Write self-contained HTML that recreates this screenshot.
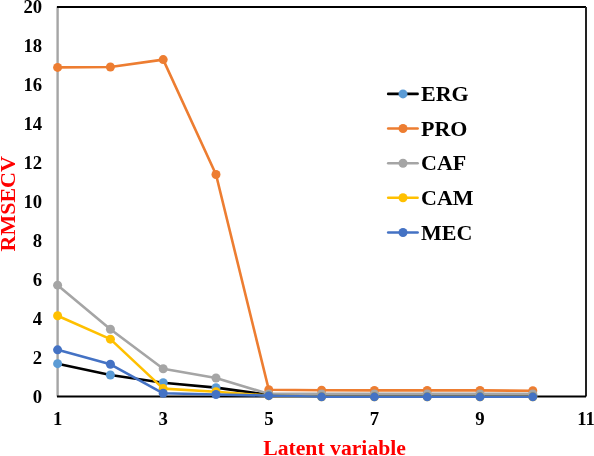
<!DOCTYPE html>
<html><head><meta charset="utf-8"><style>
html,body{margin:0;padding:0;background:#fff;}
body{width:594px;height:456px;overflow:hidden;}
svg{display:block;}
text{filter:opacity(1);}
text{font-family:"Liberation Serif",serif;font-weight:bold;}
.t{font-size:18.7px;fill:#000;}
.ti{font-size:22px;fill:#FF0000;}
.lg{font-size:22px;fill:#000;}
</style></head><body>
<svg width="594" height="456" viewBox="0 0 594 456">
<line x1="57.60" y1="6.50" x2="57.60" y2="396.60" stroke="#A5A5A5" stroke-width="2.4"/>
<line x1="57.00" y1="7.00" x2="586.00" y2="7.00" stroke="#000" stroke-width="2"/>
<line x1="586.00" y1="7.00" x2="586.00" y2="396.60" stroke="#222" stroke-width="2"/>
<line x1="57.00" y1="396.60" x2="586.00" y2="396.60" stroke="#000" stroke-width="2"/>
<polyline points="57.60,363.69 110.40,374.99 163.20,382.78 216.00,387.65 268.80,394.86 321.60,395.05 374.40,395.05 427.20,395.05 480.00,395.05 532.80,395.05" fill="none" stroke="#000000" stroke-width="2.6" stroke-linejoin="round"/>
<circle cx="57.60" cy="363.69" r="4.5" fill="#5B9BD5"/>
<circle cx="110.40" cy="374.99" r="4.5" fill="#5B9BD5"/>
<circle cx="163.20" cy="382.78" r="4.5" fill="#5B9BD5"/>
<circle cx="216.00" cy="387.65" r="4.5" fill="#5B9BD5"/>
<circle cx="268.80" cy="394.86" r="4.5" fill="#5B9BD5"/>
<circle cx="321.60" cy="395.05" r="4.5" fill="#5B9BD5"/>
<circle cx="374.40" cy="395.05" r="4.5" fill="#5B9BD5"/>
<circle cx="427.20" cy="395.05" r="4.5" fill="#5B9BD5"/>
<circle cx="480.00" cy="395.05" r="4.5" fill="#5B9BD5"/>
<circle cx="532.80" cy="395.05" r="4.5" fill="#5B9BD5"/>
<polyline points="57.60,67.40 110.40,67.01 163.20,59.61 216.00,174.54 268.80,389.79 321.60,390.18 374.40,390.38 427.20,390.38 480.00,390.38 532.80,390.77" fill="none" stroke="#ED7D31" stroke-width="2.6" stroke-linejoin="round"/>
<circle cx="57.60" cy="67.40" r="4.5" fill="#ED7D31"/>
<circle cx="110.40" cy="67.01" r="4.5" fill="#ED7D31"/>
<circle cx="163.20" cy="59.61" r="4.5" fill="#ED7D31"/>
<circle cx="216.00" cy="174.54" r="4.5" fill="#ED7D31"/>
<circle cx="268.80" cy="389.79" r="4.5" fill="#ED7D31"/>
<circle cx="321.60" cy="390.18" r="4.5" fill="#ED7D31"/>
<circle cx="374.40" cy="390.38" r="4.5" fill="#ED7D31"/>
<circle cx="427.20" cy="390.38" r="4.5" fill="#ED7D31"/>
<circle cx="480.00" cy="390.38" r="4.5" fill="#ED7D31"/>
<circle cx="532.80" cy="390.77" r="4.5" fill="#ED7D31"/>
<polyline points="57.60,285.18 110.40,329.21 163.20,368.75 216.00,378.01 268.80,393.88 321.60,393.88 374.40,393.88 427.20,393.88 480.00,393.88 532.80,393.88" fill="none" stroke="#A5A5A5" stroke-width="2.6" stroke-linejoin="round"/>
<circle cx="57.60" cy="285.18" r="4.5" fill="#A5A5A5"/>
<circle cx="110.40" cy="329.21" r="4.5" fill="#A5A5A5"/>
<circle cx="163.20" cy="368.75" r="4.5" fill="#A5A5A5"/>
<circle cx="216.00" cy="378.01" r="4.5" fill="#A5A5A5"/>
<circle cx="268.80" cy="393.88" r="4.5" fill="#A5A5A5"/>
<circle cx="321.60" cy="393.88" r="4.5" fill="#A5A5A5"/>
<circle cx="374.40" cy="393.88" r="4.5" fill="#A5A5A5"/>
<circle cx="427.20" cy="393.88" r="4.5" fill="#A5A5A5"/>
<circle cx="480.00" cy="393.88" r="4.5" fill="#A5A5A5"/>
<circle cx="532.80" cy="393.88" r="4.5" fill="#A5A5A5"/>
<polyline points="57.60,315.77 110.40,339.14 163.20,388.62 216.00,391.74 268.80,395.64 321.60,396.81 374.40,396.81 427.20,396.81 480.00,396.81 532.80,396.81" fill="none" stroke="#FFC000" stroke-width="2.6" stroke-linejoin="round"/>
<circle cx="57.60" cy="315.77" r="4.5" fill="#FFC000"/>
<circle cx="110.40" cy="339.14" r="4.5" fill="#FFC000"/>
<circle cx="163.20" cy="388.62" r="4.5" fill="#FFC000"/>
<circle cx="216.00" cy="391.74" r="4.5" fill="#FFC000"/>
<circle cx="268.80" cy="395.64" r="4.5" fill="#FFC000"/>
<circle cx="321.60" cy="396.81" r="4.5" fill="#FFC000"/>
<circle cx="374.40" cy="396.81" r="4.5" fill="#FFC000"/>
<circle cx="427.20" cy="396.81" r="4.5" fill="#FFC000"/>
<circle cx="480.00" cy="396.81" r="4.5" fill="#FFC000"/>
<circle cx="532.80" cy="396.81" r="4.5" fill="#FFC000"/>
<polyline points="57.60,349.86 110.40,364.27 163.20,393.30 216.00,394.47 268.80,395.64 321.60,396.81 374.40,396.81 427.20,396.81 480.00,396.81 532.80,396.81" fill="none" stroke="#4472C4" stroke-width="2.6" stroke-linejoin="round"/>
<circle cx="57.60" cy="349.86" r="4.5" fill="#4472C4"/>
<circle cx="110.40" cy="364.27" r="4.5" fill="#4472C4"/>
<circle cx="163.20" cy="393.30" r="4.5" fill="#4472C4"/>
<circle cx="216.00" cy="394.47" r="4.5" fill="#4472C4"/>
<circle cx="268.80" cy="395.64" r="4.5" fill="#4472C4"/>
<circle cx="321.60" cy="396.81" r="4.5" fill="#4472C4"/>
<circle cx="374.40" cy="396.81" r="4.5" fill="#4472C4"/>
<circle cx="427.20" cy="396.81" r="4.5" fill="#4472C4"/>
<circle cx="480.00" cy="396.81" r="4.5" fill="#4472C4"/>
<circle cx="532.80" cy="396.81" r="4.5" fill="#4472C4"/>
<text x="42.2" y="403.00" text-anchor="end" class="t">0</text>
<text x="42.2" y="364.04" text-anchor="end" class="t">2</text>
<text x="42.2" y="325.08" text-anchor="end" class="t">4</text>
<text x="42.2" y="286.12" text-anchor="end" class="t">6</text>
<text x="42.2" y="247.16" text-anchor="end" class="t">8</text>
<text x="42.2" y="208.20" text-anchor="end" class="t">10</text>
<text x="42.2" y="169.24" text-anchor="end" class="t">12</text>
<text x="42.2" y="130.28" text-anchor="end" class="t">14</text>
<text x="42.2" y="91.32" text-anchor="end" class="t">16</text>
<text x="42.2" y="52.36" text-anchor="end" class="t">18</text>
<text x="42.2" y="13.40" text-anchor="end" class="t">20</text>
<text x="57.60" y="425" text-anchor="middle" class="t">1</text>
<text x="163.20" y="425" text-anchor="middle" class="t">3</text>
<text x="268.80" y="425" text-anchor="middle" class="t">5</text>
<text x="374.40" y="425" text-anchor="middle" class="t">7</text>
<text x="480.00" y="425" text-anchor="middle" class="t">9</text>
<text x="586.00" y="425" text-anchor="middle" class="t">11</text>
<text x="263.2" y="455" class="ti" style="font-size:21.7px">Latent variable</text>
<text transform="translate(14.9,251.5) rotate(-90)" class="ti">RMSECV</text>
<line x1="388.2" y1="93.9" x2="417.6" y2="93.9" stroke="#000000" stroke-width="2.6" stroke-linecap="round"/>
<circle cx="403" cy="93.9" r="4.5" fill="#5B9BD5"/>
<text x="421" y="101.00" class="lg">ERG</text>
<line x1="388.2" y1="128.5" x2="417.6" y2="128.5" stroke="#ED7D31" stroke-width="2.6" stroke-linecap="round"/>
<circle cx="403" cy="128.5" r="4.5" fill="#ED7D31"/>
<text x="421" y="135.60" class="lg">PRO</text>
<line x1="388.2" y1="163.2" x2="417.6" y2="163.2" stroke="#A5A5A5" stroke-width="2.6" stroke-linecap="round"/>
<circle cx="403" cy="163.2" r="4.5" fill="#A5A5A5"/>
<text x="421" y="170.30" class="lg">CAF</text>
<line x1="388.2" y1="197.7" x2="417.6" y2="197.7" stroke="#FFC000" stroke-width="2.6" stroke-linecap="round"/>
<circle cx="403" cy="197.7" r="4.5" fill="#FFC000"/>
<text x="421" y="204.80" class="lg">CAM</text>
<line x1="388.2" y1="232.5" x2="417.6" y2="232.5" stroke="#4472C4" stroke-width="2.6" stroke-linecap="round"/>
<circle cx="403" cy="232.5" r="4.5" fill="#4472C4"/>
<text x="421" y="239.60" class="lg">MEC</text>
</svg>
</body></html>
